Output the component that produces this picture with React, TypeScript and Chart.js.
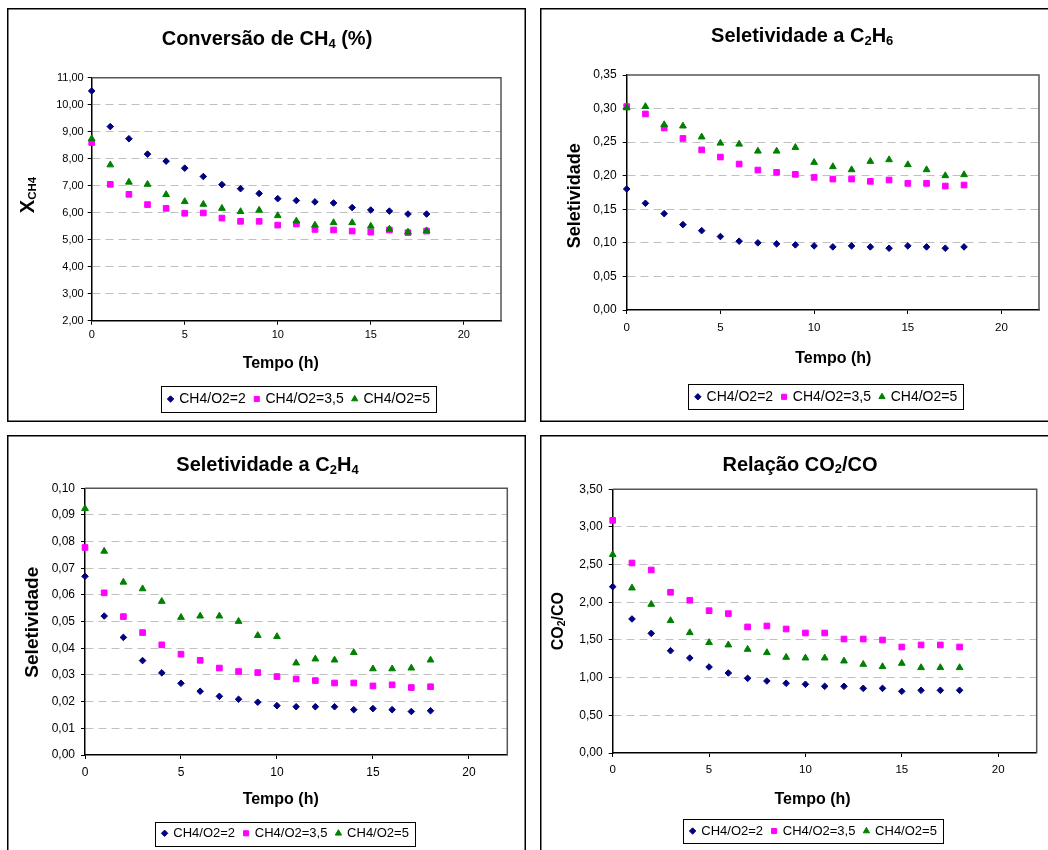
import React, { useEffect, useRef } from "react";
import { Chart, registerables } from "chart.js";

Chart.register(...registerables);

// ---- data ----------------------------------------------------------------
const hours = [0, 1, 2, 3, 4, 5, 6, 7, 8, 9, 10, 11, 12, 13, 14, 15, 16, 17, 18];
const timeTicks = [0, 5, 10, 15, 20];
const seriesLabels = ["CH4/O2=2", "CH4/O2=3,5", "CH4/O2=5"];

// CH4 conversion (%)
const convRatio2 = [10.51, 9.19, 8.74, 8.17, 7.91, 7.65, 7.34, 7.04, 6.89, 6.71, 6.52, 6.45, 6.4, 6.36, 6.19, 6.1, 6.06, 5.95, 5.95];
const convRatio35 = [8.6, 7.05, 6.68, 6.3, 6.16, 5.98, 5.99, 5.8, 5.68, 5.68, 5.54, 5.58, 5.38, 5.36, 5.32, 5.28, 5.36, 5.26, 5.32];
const convRatio5 = [8.74, 7.77, 7.13, 7.05, 6.67, 6.41, 6.31, 6.16, 6.04, 6.09, 5.89, 5.69, 5.54, 5.63, 5.63, 5.5, 5.39, 5.28, 5.33];
const convTicks = [2, 3, 4, 5, 6, 7, 8, 9, 10, 11];

// C2H6 selectivity
const c2h6Ratio2 = [0.1803, 0.1589, 0.1435, 0.1272, 0.1182, 0.1094, 0.1025, 0.1, 0.0985, 0.097, 0.0955, 0.094, 0.0955, 0.094, 0.092, 0.0955, 0.094, 0.092, 0.094];
const c2h6Ratio35 = [0.303, 0.292, 0.271, 0.2555, 0.2385, 0.2278, 0.2174, 0.2084, 0.205, 0.202, 0.1975, 0.195, 0.195, 0.1916, 0.1936, 0.1886, 0.1886, 0.1846, 0.1861];
const c2h6Ratio5 = [0.301, 0.303, 0.276, 0.274, 0.2577, 0.2485, 0.247, 0.2366, 0.2366, 0.2421, 0.2198, 0.2134, 0.2089, 0.2213, 0.2238, 0.2164, 0.2089, 0.2, 0.2015];
const c2h6Ticks = [0, 0.05, 0.1, 0.15, 0.2, 0.25, 0.3, 0.35];

// C2H4 selectivity
const c2h4Ratio2 = [0.067, 0.0521, 0.0441, 0.0354, 0.0308, 0.0269, 0.0239, 0.022, 0.0209, 0.0198, 0.0185, 0.0181, 0.0181, 0.0181, 0.017, 0.0174, 0.017, 0.0163, 0.0166];
const c2h4Ratio35 = [0.0778, 0.0608, 0.0519, 0.0459, 0.0413, 0.0378, 0.0355, 0.0326, 0.0313, 0.0309, 0.0294, 0.0285, 0.0279, 0.027, 0.027, 0.0259, 0.0263, 0.0253, 0.0256];
const c2h4Ratio5 = [0.0924, 0.0764, 0.0648, 0.0623, 0.0576, 0.0516, 0.0521, 0.0521, 0.0501, 0.0448, 0.0444, 0.0345, 0.036, 0.0356, 0.0384, 0.0323, 0.0323, 0.0326, 0.0356];
const c2h4Ticks = [0, 0.01, 0.02, 0.03, 0.04, 0.05, 0.06, 0.07, 0.08, 0.09, 0.1];

// CO2/CO ratio
const co2coRatio2 = [2.208, 1.779, 1.588, 1.358, 1.261, 1.142, 1.062, 0.991, 0.956, 0.925, 0.912, 0.885, 0.885, 0.858, 0.858, 0.819, 0.832, 0.832, 0.832];
const co2coRatio35 = [3.088, 2.522, 2.429, 2.133, 2.027, 1.889, 1.85, 1.673, 1.686, 1.646, 1.593, 1.593, 1.513, 1.513, 1.5, 1.407, 1.434, 1.434, 1.407];
const co2coRatio5 = [2.633, 2.19, 1.973, 1.757, 1.597, 1.465, 1.434, 1.376, 1.332, 1.27, 1.261, 1.261, 1.221, 1.177, 1.146, 1.19, 1.133, 1.133, 1.133];
const co2coTicks = [0, 0.5, 1, 1.5, 2, 2.5, 3, 3.5];

// ---- styling ---------------------------------------------------------------
const FONT = "'Liberation Sans', Arial, sans-serif";

type MarkerKind = "rectRot" | "rect" | "triangle";
const markers: { kind: MarkerKind; color: string; radius: number }[] = [
  { kind: "rectRot", color: "#000080", radius: 3.3 },
  { kind: "rect", color: "#FF00FF", radius: 4.0 },
  { kind: "triangle", color: "#008000", radius: 3.9 },
];

type Seg = { t: string; sub?: boolean };
type Rich = { segs: Seg[]; size: number; subSize: number; drop: number };

type PanelSpec = {
  box: { left: number; top: number; width: number; height: number };
  area: { left: number; top: number; right: number; bottom: number };
  title: Rich & { cx: number; base: number };
  yTitle: Rich & { base: number; cy: number };
  xTitle: { text: string; size: number; cx: number; base: number };
  yTickSize: number;
  yTickPad: number;
  xTickSize: number;
  xTickPad: number;
  legend: { cx: number; cy: number; h: number; size: number };
  series: number[][];
  yTicks: number[];
};

const panels: PanelSpec[] = [
  {
    box: { left: 7, top: 8, width: 519, height: 414 },
    area: { left: 84.7, top: 69.7, right: 494, bottom: 312.7 },
    title: { segs: [{ t: "Conversão de CH" }, { t: "4", sub: true }, { t: " (%)" }], size: 20, subSize: 13, drop: 2.5, cx: 260, base: 37 },
    yTitle: { segs: [{ t: "X" }, { t: "CH4", sub: true }], size: 20, subSize: 11.5, drop: 2, base: 27, cy: 187 },
    xTitle: { text: "Tempo (h)", size: 16, cx: 273.7, base: 359.7 },
    yTickSize: 11,
    yTickPad: 4,
    xTickSize: 11,
    xTickPad: 4,
    legend: { cx: 291.5, cy: 391, h: 26, size: 14 },
    series: [convRatio2, convRatio35, convRatio5],
    yTicks: convTicks,
  },
  {
    box: { left: 540, top: 8, width: 520, height: 414 },
    area: { left: 86.7, top: 67, right: 499, bottom: 302 },
    title: { segs: [{ t: "Seletividade a C" }, { t: "2", sub: true }, { t: "H" }, { t: "6", sub: true }], size: 20, subSize: 13, drop: 2.5, cx: 262.2, base: 34.3 },
    yTitle: { segs: [{ t: "Seletividade" }], size: 18, subSize: 12, drop: 2, base: 40, cy: 187.7 },
    xTitle: { text: "Tempo (h)", size: 16, cx: 293.3, base: 354.7 },
    yTickSize: 12,
    yTickPad: 6,
    xTickSize: 11.5,
    xTickPad: 7,
    legend: { cx: 285.8, cy: 388.8, h: 25, size: 14 },
    series: [c2h6Ratio2, c2h6Ratio35, c2h6Ratio5],
    yTicks: c2h6Ticks,
  },
  {
    box: { left: 7, top: 435, width: 519, height: 430 },
    area: { left: 78, top: 53.3, right: 500.3, bottom: 320 },
    title: { segs: [{ t: "Seletividade a C" }, { t: "2", sub: true }, { t: "H" }, { t: "4", sub: true }], size: 20, subSize: 13, drop: 2.5, cx: 260.5, base: 36 },
    yTitle: { segs: [{ t: "Seletividade" }], size: 19, subSize: 12, drop: 2, base: 31.3, cy: 187.2 },
    xTitle: { text: "Tempo (h)", size: 16, cx: 273.7, base: 369 },
    yTickSize: 12,
    yTickPad: 6,
    xTickSize: 12,
    xTickPad: 6,
    legend: { cx: 278, cy: 398.3, h: 23.5, size: 13 },
    series: [c2h4Ratio2, c2h4Ratio35, c2h4Ratio5],
    yTicks: c2h4Ticks,
  },
  {
    box: { left: 540, top: 435, width: 520, height: 430 },
    area: { left: 72.7, top: 54.3, right: 496.7, bottom: 318 },
    title: { segs: [{ t: "Relação CO" }, { t: "2", sub: true }, { t: "/CO" }], size: 20, subSize: 13, drop: 2.5, cx: 260, base: 35.7 },
    yTitle: { segs: [{ t: "CO" }, { t: "2", sub: true }, { t: "/CO" }], size: 16, subSize: 10.5, drop: 2, base: 23, cy: 186.2 },
    xTitle: { text: "Tempo (h)", size: 16, cx: 272.5, base: 369 },
    yTickSize: 12,
    yTickPad: 6,
    xTickSize: 11.5,
    xTickPad: 6,
    legend: { cx: 273, cy: 396, h: 23.5, size: 13 },
    series: [co2coRatio2, co2coRatio35, co2coRatio5],
    yTicks: co2coTicks,
  },
];

// ---- canvas helpers ----------------------------------------------------------
function richWidth(ctx: CanvasRenderingContext2D, r: Rich) {
  let w = 0;
  for (const s of r.segs) {
    ctx.font = `bold ${s.sub ? r.subSize : r.size}px ${FONT}`;
    w += ctx.measureText(s.t).width;
  }
  return w;
}

// Draws bold text with subscripts, centred horizontally on the origin, baseline at y = 0.
function drawRichAtOrigin(ctx: CanvasRenderingContext2D, r: Rich) {
  let x = -richWidth(ctx, r) / 2;
  ctx.textAlign = "left";
  ctx.textBaseline = "alphabetic";
  ctx.fillStyle = "#000";
  for (const s of r.segs) {
    ctx.font = `bold ${s.sub ? r.subSize : r.size}px ${FONT}`;
    ctx.fillText(s.t, x, s.sub ? r.drop : 0);
    x += ctx.measureText(s.t).width;
  }
}

function drawMarker(ctx: CanvasRenderingContext2D, kind: MarkerKind, color: string, x: number, y: number, r: number) {
  ctx.save();
  ctx.fillStyle = color;
  ctx.strokeStyle = color;
  ctx.lineWidth = 1;
  ctx.beginPath();
  if (kind === "rectRot") {
    ctx.moveTo(x - r, y);
    ctx.lineTo(x, y - r);
    ctx.lineTo(x + r, y);
    ctx.lineTo(x, y + r);
  } else if (kind === "rect") {
    const s = r * Math.SQRT1_2;
    ctx.rect(x - s, y - s, 2 * s, 2 * s);
  } else {
    for (let k = 0; k < 3; k++) {
      const a = (k * 2 * Math.PI) / 3;
      const px = x + Math.sin(a) * r;
      const py = y - Math.cos(a) * r;
      if (k === 0) ctx.moveTo(px, py);
      else ctx.lineTo(px, py);
    }
  }
  ctx.closePath();
  ctx.fill();
  ctx.stroke();
  ctx.restore();
}

function decorations(spec: PanelSpec) {
  return {
    id: "panelDecor",
    beforeDatasetsDraw(chart: Chart) {
      const ctx = chart.ctx;
      const { left, top, right, bottom } = chart.chartArea;
      ctx.save();
      ctx.strokeStyle = "#555";
      ctx.lineWidth = 1.5;
      ctx.beginPath();
      ctx.moveTo(left, top);
      ctx.lineTo(right, top);
      ctx.lineTo(right, bottom);
      ctx.stroke();
      ctx.restore();
    },
    afterDraw(chart: Chart) {
      const ctx = chart.ctx;
      const w = chart.width;
      const h = chart.height;
      ctx.save();

      // panel frame
      ctx.strokeStyle = "#000";
      ctx.lineWidth = 1.5;
      ctx.strokeRect(0.75, 0.75, w - 1.5, h - 1.5);

      // chart title
      ctx.save();
      ctx.translate(spec.title.cx, spec.title.base);
      drawRichAtOrigin(ctx, spec.title);
      ctx.restore();

      // y axis title (rotated)
      ctx.save();
      ctx.translate(spec.yTitle.base, spec.yTitle.cy);
      ctx.rotate(-Math.PI / 2);
      drawRichAtOrigin(ctx, spec.yTitle);
      ctx.restore();

      // x axis title
      ctx.font = `bold ${spec.xTitle.size}px ${FONT}`;
      ctx.fillStyle = "#000";
      ctx.textAlign = "center";
      ctx.textBaseline = "alphabetic";
      ctx.fillText(spec.xTitle.text, spec.xTitle.cx, spec.xTitle.base);

      // legend
      const lg = spec.legend;
      ctx.font = `${lg.size}px ${FONT}`;
      const markerW = 7;
      const markerGap = 5.2;
      const itemGap = 7.5;
      const pad = 6;
      const widths = seriesLabels.map((l) => ctx.measureText(l).width);
      const total =
        pad * 2 + widths.reduce((a, b) => a + b, 0) + seriesLabels.length * (markerW + markerGap) + (seriesLabels.length - 1) * itemGap;
      const bx = lg.cx - total / 2;
      const by = lg.cy - lg.h / 2;
      ctx.fillStyle = "#fff";
      ctx.fillRect(bx, by, total, lg.h);
      ctx.strokeStyle = "#000";
      ctx.lineWidth = 1;
      ctx.strokeRect(Math.round(bx) + 0.5, Math.round(by) + 0.5, Math.round(total), Math.round(lg.h));
      let x = bx + pad;
      seriesLabels.forEach((label, i) => {
        const m = markers[i];
        drawMarker(ctx, m.kind, m.color, x + markerW / 2, lg.cy, m.kind === "rect" ? 3.6 : m.kind === "rectRot" ? 3.2 : 3.6);
        x += markerW + markerGap;
        ctx.fillStyle = "#000";
        ctx.textAlign = "left";
        ctx.textBaseline = "middle";
        ctx.font = `${lg.size}px ${FONT}`;
        ctx.fillText(label, x, lg.cy + 0.5);
        x += widths[i] + itemGap;
      });

      ctx.restore();
    },
  };
}

const fmtComma = (v: number) => Number(v).toFixed(2).replace(".", ",");

function Panel({ spec }: { spec: PanelSpec }) {
  const ref = useRef<HTMLCanvasElement | null>(null);

  useEffect(() => {
    const canvas = ref.current;
    if (!canvas) return;
    const w = spec.box.width;
    const h = spec.box.height;
    const yMin = spec.yTicks[0];
    const yMax = spec.yTicks[spec.yTicks.length - 1];

    const chart = new Chart(canvas, {
      type: "scatter",
      data: {
        datasets: spec.series.map((vals, i) => ({
          label: seriesLabels[i],
          data: hours.map((t, j) => ({ x: t, y: vals[j] })),
          pointStyle: markers[i].kind,
          pointRadius: markers[i].radius,
          pointBackgroundColor: markers[i].color,
          pointBorderColor: markers[i].color,
          pointBorderWidth: 1,
          showLine: false,
          clip: false,
          order: 3 - i,
        })),
      },
      options: {
        animation: false,
        responsive: false,
        devicePixelRatio: 1,
        events: [],
        layout: {
          padding: { left: 0, top: spec.area.top, right: w - spec.area.right, bottom: 0 },
        },
        plugins: {
          legend: { display: false },
          title: { display: false },
          tooltip: { enabled: false },
        },
        scales: {
          x: {
            type: "linear",
            position: "bottom",
            min: 0,
            max: 22,
            afterBuildTicks: (s: any) => {
              s.ticks = timeTicks.map((v) => ({ value: v }));
            },
            afterFit: (s: any) => {
              s.height = h - spec.area.bottom;
            },
            ticks: {
              color: "#000",
              font: { family: FONT, size: spec.xTickSize },
              padding: spec.xTickPad,
              maxRotation: 0,
              autoSkip: false,
            },
            grid: { drawOnChartArea: false, tickLength: 4, tickColor: "#000", tickWidth: 1 },
            border: { color: "#000", width: 1.5 },
          },
          y: {
            type: "linear",
            min: yMin,
            max: yMax,
            afterBuildTicks: (s: any) => {
              s.ticks = spec.yTicks.map((v) => ({ value: v }));
            },
            afterFit: (s: any) => {
              s.width = spec.area.left;
            },
            ticks: {
              color: "#000",
              font: { family: FONT, size: spec.yTickSize },
              padding: spec.yTickPad,
              autoSkip: false,
              callback: (v: any) => fmtComma(v),
            },
            grid: {
              color: (c: any) =>
                c.tick && (Math.abs(c.tick.value - yMin) < 1e-9 || Math.abs(c.tick.value - yMax) < 1e-9) ? "rgba(0,0,0,0)" : "#c0c0c0",
              lineWidth: 1,
              tickLength: 4,
              tickColor: "#000",
              tickWidth: 1,
            },
            border: { color: "#000", width: 1.5, dash: [8, 5] },
          },
        },
      },
      plugins: [decorations(spec)],
    } as any);

    return () => chart.destroy();
  }, [spec]);

  return (
    <canvas
      ref={ref}
      width={spec.box.width}
      height={spec.box.height}
      style={{
        position: "absolute",
        left: spec.box.left,
        top: spec.box.top,
        width: spec.box.width,
        height: spec.box.height,
        display: "block",
      }}
    />
  );
}

export default function App() {
  return (
    <div
      style={{
        position: "absolute",
        left: 0,
        top: 0,
        width: 1048,
        height: 850,
        overflow: "hidden",
        background: "#fff",
      }}
    >
      {panels.map((p, i) => (
        <Panel key={i} spec={p} />
      ))}
    </div>
  );
}
